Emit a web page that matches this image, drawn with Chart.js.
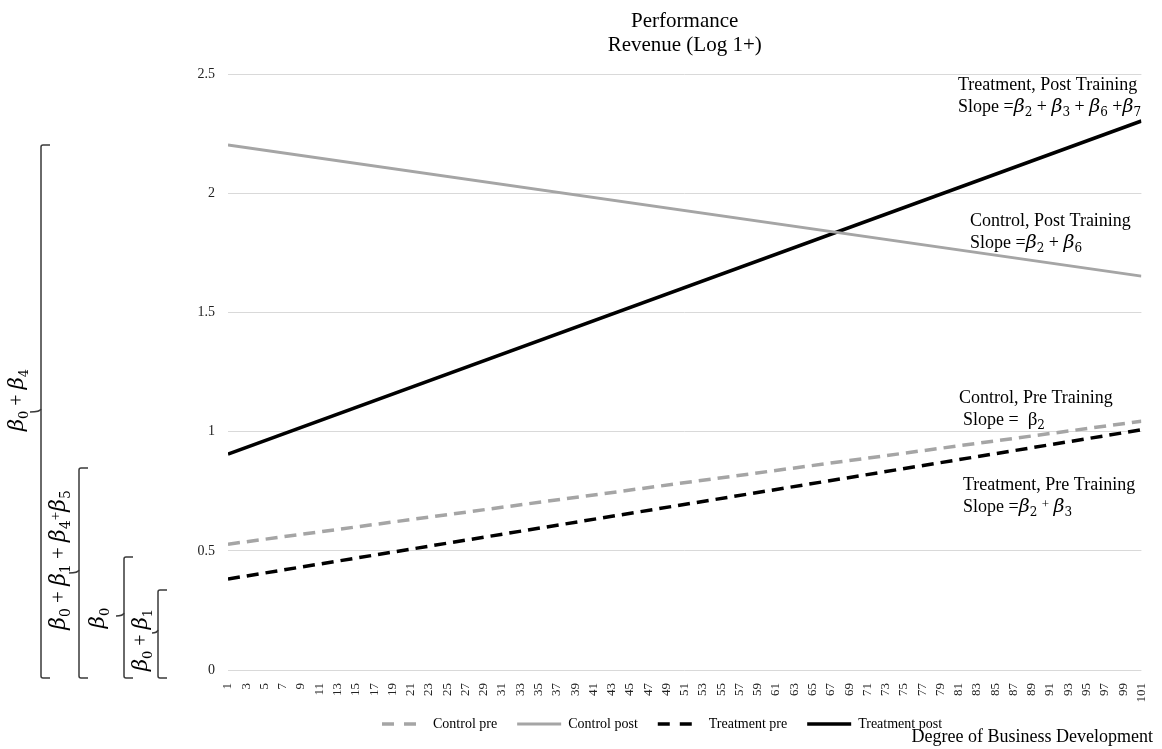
<!DOCTYPE html>
<html><head><meta charset="utf-8">
<script src="https://cdn.jsdelivr.net/npm/chart.js@4.4.1/dist/chart.umd.min.js"></script>
<style>html,body{margin:0;padding:0;background:#fff}#wrap{width:1162px;height:749px;position:relative}</style>
</head><body><div id="wrap"><canvas id="c" width="1162" height="749"></canvas></div>
<script>
// ---- data ----
const xPositions = [1, 101];
const controlPre = [0.528, 1.044];
const controlPost = [2.203, 1.653];
const treatmentPre = [0.382, 1.008];
const treatmentPost = [0.906, 2.304];
const seriesNames = ['Control pre', 'Control post', 'Treatment pre', 'Treatment post'];
const titleLines = ['Performance', 'Revenue (Log 1+)'];
const xAxisTitle = 'Degree of Business Development';
const yTickStep = 0.5;
const xTickStep = 2;

const SERIF = '"Liberation Serif", "Times New Roman", serif';
const MATH = '"DejaVu Serif", serif';
const pts = arr => xPositions.map((x, i) => ({x: x, y: arr[i]}));

// ---- rich text helpers (β italic, _ subscript, ^ small char, ~ upright next char) ----
function parse(str) {
  const out = []; let buf = '';
  const flush = () => { if (buf) { out.push({t: buf, k: 'n'}); buf = ''; } };
  for (let i = 0; i < str.length; i++) {
    const c = str[i];
    if (c === 'β') { flush(); out.push({t: 'β', k: 'b'}); }
    else if (c === '_') { flush(); out.push({t: str[++i], k: 's'}); }
    else if (c === '^') { flush(); out.push({t: str[++i], k: 'p'}); }
    else if (c === '~') { flush(); out.push({t: str[++i], k: 'u'}); }
    else buf += c;
  }
  flush(); return out;
}
function drawRich(ctx, str, size, x, y, align) {
  const parts = parse(str).map(p => {
    let f;
    if (p.k === 'b') f = 'italic ' + (size + 1) + 'px ' + MATH;
    else if (p.k === 'u') f = (size + 1) + 'px ' + SERIF;
    else if (p.k === 's') f = Math.round(size * 0.66) + 'px ' + MATH;
    else if (p.k === 'p') f = Math.round(size * 0.72) + 'px ' + SERIF;
    else f = size + 'px ' + SERIF;
    ctx.font = f;
    return {t: p.t, f: f, w: ctx.measureText(p.t).width, dy: p.k === 's' ? size * 0.34 : (p.k === 'p' ? -size * 0.12 : 0)};
  });
  const total = parts.reduce((a, p) => a + p.w, 0);
  let cx = align === 'center' ? x - total / 2 : (align === 'right' ? x - total : x);
  ctx.textAlign = 'left'; ctx.textBaseline = 'middle';
  parts.forEach(p => { ctx.font = p.f; ctx.fillText(p.t, cx, y + p.dy); cx += p.w; });
}

const rightNotes = [
  ['Treatment, Post Training', 958, 85],
  ['Slope =β_2 + β_3 + β_6 +β_7', 958, 107],
  ['Control, Post Training', 970, 221],
  ['Slope =β_2 + β_6', 970, 243],
  ['Control, Pre Training', 959, 398],
  ['Slope =  ~β_2', 963, 420],
  ['Treatment, Pre Training', 963, 485],
  ['Slope =β_2 ^+ β_3', 963, 507]
];
const leftLabels = [
  ['β_0 + β_4', 18, 400, 20],
  ['β_0 + β_1 + β_4^+β_5', 59, 560, 21],
  ['β_0', 99, 618, 20],
  ['β_0 + β_1', 142, 640, 20]
];
const braces = [
  {x: 41, top: 145, bottom: 678, tip: 412, tl: 11},
  {x: 79, top: 468, bottom: 678, tip: 573, tl: 10},
  {x: 124, top: 557, bottom: 678, tip: 616, tl: 8},
  {x: 158, top: 590, bottom: 678, tip: 633, tl: 6}
];

const annot = {
  id: 'annot',
  afterDraw(chart) {
    const ctx = chart.ctx;
    ctx.save();
    ctx.fillStyle = '#000';
    rightNotes.forEach(n => drawRich(ctx, n[0], 18, n[1], n[2], 'left'));
    leftLabels.forEach(l => {
      ctx.save(); ctx.translate(l[1], l[2]); ctx.rotate(-Math.PI / 2);
      drawRich(ctx, l[0], l[3], 0, 0, 'center'); ctx.restore();
    });
    ctx.strokeStyle = '#3a3a3a'; ctx.lineWidth = 1.5;
    braces.forEach(b => {
      ctx.beginPath();
      ctx.moveTo(b.x + 9, b.top); ctx.lineTo(b.x + 2, b.top);
      ctx.quadraticCurveTo(b.x, b.top, b.x, b.top + 2);
      ctx.lineTo(b.x, b.bottom - 2);
      ctx.quadraticCurveTo(b.x, b.bottom, b.x + 2, b.bottom);
      ctx.lineTo(b.x + 9, b.bottom);
      ctx.stroke();
      ctx.beginPath();
      ctx.moveTo(b.x, b.tip - 3);
      ctx.quadraticCurveTo(b.x - 1, b.tip, b.x - b.tl, b.tip);
      ctx.stroke();
    });
    ctx.font = '18px ' + SERIF; ctx.textAlign = 'right'; ctx.textBaseline = 'middle';
    ctx.fillText(xAxisTitle, 1153, 737);
    ctx.restore();
  }
};
const LEGEND_START = 382;
const legendShift = {
  id: 'legendShift',
  afterLayout(chart) {
    const lg = chart.legend; if (!lg || !lg.lineWidths) return;
    const pad = lg.options.labels.padding;
    const cur = ((lg.left + pad) + (lg.right - lg.lineWidths[0])) / 2;
    const d = LEGEND_START - cur;
    lg.left += d; lg.right += d;
    lg.top -= 5; lg.bottom -= 5;
  }
};

const mk = (label, arr, color, dash, width) => ({
  label: label, data: pts(arr), borderColor: color, backgroundColor: color,
  borderWidth: width, borderDash: dash, pointRadius: 0, pointHoverRadius: 0,
  pointStyle: 'line', tension: 0, fill: false, borderCapStyle: 'butt'
});

new Chart(document.getElementById('c'), {
  type: 'line',
  data: {
    datasets: [
      mk(seriesNames[0], controlPre, '#a5a5a5', [12, 7], 3.5),
      mk(seriesNames[1], controlPost, '#a5a5a5', [], 3),
      mk(seriesNames[2], treatmentPre, '#000000', [12, 7], 3.5),
      mk(seriesNames[3], treatmentPost, '#000000', [], 3.5)
    ]
  },
  options: {
    responsive: false, animation: false, devicePixelRatio: 1,
    layout: {padding: {left: 168, right: 19, top: 0, bottom: 3}},
    plugins: {
      title: {display: true, text: titleLines, fullSize: false, color: '#000',
        font: {family: SERIF, size: 21, weight: 'normal', lineHeight: 1.15},
        padding: {top: 9, bottom: 17}},
      legend: {position: 'bottom', fullSize: true,
        labels: {usePointStyle: true, pointStyleWidth: 44, boxHeight: 14, padding: 20, color: '#000',
          font: {family: SERIF, size: 14},
          generateLabels(chart) {
            const items = Chart.defaults.plugins.legend.labels.generateLabels(chart);
            items.forEach((it, i) => {
              const ds = chart.data.datasets[i];
              it.lineDash = ds.borderDash.length ? [12, 10] : [];
              it.lineWidth = ds.borderWidth;
              it.strokeStyle = ds.borderColor;
              it.pointStyle = 'line';
            });
            return items;
          }}},
      tooltip: {enabled: false}
    },
    scales: {
      x: {type: 'linear', min: xPositions[0], max: xPositions[1],
        grid: {display: false}, border: {display: false},
        ticks: {stepSize: xTickStep, autoSkip: false, maxRotation: 90, minRotation: 90, padding: 5,
          color: '#222', font: {family: SERIF, size: 13}, callback: v => String(v)},
        afterFit: s => { s.height = 32; }},
      y: {min: 0, max: 2.5,
        grid: {color: '#d9d9d9', lineWidth: 1, drawTicks: false}, border: {display: false},
        ticks: {stepSize: yTickStep, padding: 13, color: '#222', font: {family: SERIF, size: 14},
          callback: v => String(v)},
        afterFit: s => { s.width = 60; }}
    }
  },
  plugins: [annot, legendShift]
});
</script></body></html>
